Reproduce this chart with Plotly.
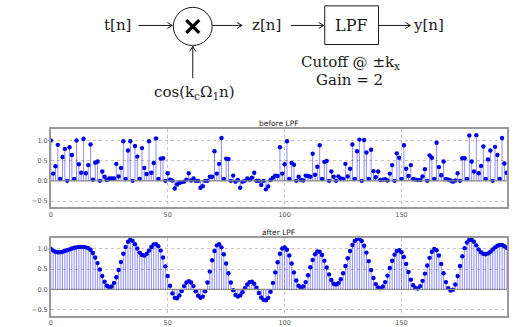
import plotly.graph_objects as go

W, H = 515, 327

n = list(range(196))

before_lpf = [
    1.00, 0.18, 0.36, 0.89, 0.05, 0.59, 0.79, 0.00, 0.83, 0.64,
    0.05, 1.00, 0.41, 0.20, 1.04, 0.19, 0.39, 0.90, 0.03, 0.45,
    0.48, 0.00, 0.23, 0.10, 0.02, 0.06, 0.06, 0.06, 0.42, 0.11,
    0.32, 0.98, 0.05, 0.75, 0.98, 0.00, 0.86, 0.60, 0.05, 0.81,
    0.32, 0.17, 0.98, 0.20, 0.44, 1.05, 0.05, 0.55, 0.56, 0.00,
    0.19, 0.03, 0.01, -0.19, -0.09, -0.05, -0.03, -0.02, 0.03, 0.19,
    0.01, 0.06, 0.00, 0.00, -0.17, -0.13, 0.00, 0.00, 0.10, 0.10,
    0.73, 0.18, 0.42, 1.06, 0.05, 0.55, 0.54, 0.00, 0.13, -0.02,
    0.02, -0.17, -0.02, 0.00, 0.06, 0.03, 0.08, 0.20, 0.00, 0.00,
    -0.10, 0.00, -0.21, -0.14, 0.02, 0.08, 0.13, 0.12, 0.83, 0.18,
    0.41, 0.98, 0.05, 0.44, 0.40, 0.00, 0.10, 0.02, 0.01, 0.13,
    0.12, 0.10, 0.67, 0.15, 0.35, 0.88, 0.05, 0.47, 0.49, 0.00,
    0.23, 0.10, 0.00, 0.11, 0.06, 0.05, 0.42, 0.11, 0.30, 0.90,
    0.05, 0.73, 1.02, 0.00, 1.01, 0.70, 0.05, 0.77, 0.24, 0.09,
    0.23, 0.02, 0.03, 0.04, 0.01, 0.18, 0.39, 0.00, 0.68, 0.57,
    0.05, 0.88, 0.30, 0.12, 0.39, 0.05, 0.03, 0.02, 0.02, 0.11,
    0.29, 0.00, 0.63, 0.57, 0.05, 0.94, 0.34, 0.14, 0.48, 0.05,
    0.03, 0.01, -0.02, 0.01, 0.19, 0.00, 0.56, 0.56, 0.05, 1.12,
    0.48, 0.23, 1.13, 0.19, 0.37, 0.85, 0.05, 0.53, 0.75, 0.00,
    0.84, 0.64, 0.05, 1.06, 0.43, 0.20,
]

after_lpf = [
    1.00, 0.96, 0.93, 0.92, 0.92, 0.93, 0.95, 0.97, 0.99, 1.01,
    1.03, 1.04, 1.05, 1.05, 1.05, 1.04, 1.02, 0.98, 0.90, 0.79,
    0.65, 0.49, 0.33, 0.19, 0.09, 0.05, 0.07, 0.16, 0.30, 0.48,
    0.68, 0.88, 1.05, 1.18, 1.23, 1.20, 1.12, 1.01, 0.91, 0.85,
    0.84, 0.88, 0.96, 1.05, 1.11, 1.12, 1.07, 0.96, 0.79, 0.57,
    0.33, 0.09, -0.10, -0.21, -0.22, -0.15, -0.04, 0.08, 0.17, 0.20,
    0.17, 0.08, -0.05, -0.16, -0.21, -0.18, -0.05, 0.17, 0.44, 0.72,
    0.95, 1.09, 1.12, 1.04, 0.87, 0.64, 0.40, 0.17, -0.02, -0.14,
    -0.18, -0.15, -0.07, 0.03, 0.12, 0.18, 0.19, 0.14, 0.04, -0.09,
    -0.20, -0.26, -0.27, -0.21, -0.06, 0.16, 0.42, 0.67, 0.88, 1.01,
    1.04, 0.98, 0.84, 0.64, 0.42, 0.22, 0.09, 0.04, 0.07, 0.18,
    0.35, 0.55, 0.73, 0.87, 0.94, 0.93, 0.85, 0.71, 0.54, 0.37,
    0.23, 0.14, 0.12, 0.15, 0.25, 0.40, 0.58, 0.77, 0.95, 1.10,
    1.20, 1.25, 1.25, 1.20, 1.08, 0.91, 0.70, 0.48, 0.28, 0.13,
    0.05, 0.03, 0.07, 0.18, 0.34, 0.53, 0.71, 0.86, 0.95, 0.97,
    0.92, 0.80, 0.63, 0.43, 0.24, 0.10, 0.03, 0.02, 0.08, 0.21,
    0.39, 0.59, 0.78, 0.93, 1.00, 0.97, 0.84, 0.63, 0.40, 0.18,
    0.03, -0.03, -0.01, 0.12, 0.33, 0.58, 0.82, 1.02, 1.16, 1.23,
    1.23, 1.18, 1.09, 0.99, 0.92, 0.88, 0.87, 0.89, 0.93, 0.99,
    1.04, 1.08, 1.10, 1.10, 1.07, 1.03,
]

x_ticks = [0, 50, 100, 150]
y_ticks = [-0.5, 0.0, 0.5, 1.0]
y_tick_text = ["\u22120.5", "0.0", "0.5", "1.0"]
titles = ["before LPF", "after LPF"]


def px(x):
    return x / W


def py(y):
    return 1 - y / H


fig = go.Figure()

STEM = "rgba(30,30,255,0.5)"
DOT = "#0000e6"

for vals, xa, ya in [(before_lpf, "x", "y"), (after_lpf, "x2", "y2")]:
    sx, sy = [], []
    for i, v in zip(n, vals):
        sx += [i, i, None]
        sy += [0, v, None]
    fig.add_trace(go.Scatter(x=sx, y=sy, mode="lines", line=dict(color=STEM, width=1),
                             xaxis=xa, yaxis=ya, hoverinfo="skip", showlegend=False))
    fig.add_trace(go.Scatter(x=n, y=vals, mode="markers",
                             marker=dict(color=DOT, size=4.4, line=dict(width=0)),
                             xaxis=xa, yaxis=ya, cliponaxis=False, showlegend=False))

axis_common = dict(
    showline=True, mirror=True, linecolor="#9a9a9a", linewidth=1.5,
    showgrid=True, gridcolor="#c4c4c4", griddash="dot", gridwidth=1,
    ticks="", tickfont=dict(family="DejaVu Sans", size=6.5, color="#555555"),
    zeroline=False,
)

xdom = [px(49), px(506.7)]
fig.update_layout(
    width=W, height=H,
    margin=dict(l=0, r=0, t=0, b=0),
    paper_bgcolor="white", plot_bgcolor="white",
    xaxis=dict(domain=xdom, range=[0, 195], tickvals=x_ticks, anchor="y", **axis_common),
    yaxis=dict(domain=[py(211.7), py(132.3)], range=[-0.65, 1.27], tickvals=y_ticks,
               ticktext=y_tick_text, anchor="x", **axis_common),
    xaxis2=dict(domain=xdom, range=[0, 195], tickvals=x_ticks, anchor="y2", **axis_common),
    yaxis2=dict(domain=[py(322.5), py(243.7)], range=[-0.65, 1.26], tickvals=y_ticks,
                ticktext=y_tick_text, anchor="x2", **axis_common),
)

# zero baselines
for xa, ya in [("x", "y"), ("x2", "y2")]:
    fig.add_shape(type="line", xref=f"{xa} domain", yref=ya, x0=0, x1=1, y0=0, y1=0,
                  line=dict(color="#8a8a8a", width=1.3), layer="above")

# subplot titles
for t, yy in zip(titles, [126, 238]):
    fig.add_annotation(text=t, x=px(277.8), y=py(yy), xref="paper", yref="paper",
                       xanchor="center", yanchor="middle", showarrow=False,
                       font=dict(family="DejaVu Sans", size=7.5, color="#222222"))

# ---- block diagram ----
SERIF = "DejaVu Serif"
LINE = dict(color="#1a1a1a", width=1)


def arrow(x0, y0, x1, y1):
    fig.add_shape(type="line", xref="paper", yref="paper",
                  x0=px(x0), y0=py(y0), x1=px(x1), y1=py(y1), line=LINE)
    if y0 == y1:
        d = 1 if x1 > x0 else -1
        path = (f"M {px(x1 - d*5)},{py(y1 - 3)} L {px(x1)},{py(y1)} "
                f"L {px(x1 - d*5)},{py(y1 + 3)}")
    else:
        d = 1 if y1 > y0 else -1
        path = (f"M {px(x1 - 3)},{py(y1 - d*5)} L {px(x1)},{py(y1)} "
                f"L {px(x1 + 3)},{py(y1 - d*5)}")
    fig.add_shape(type="path", xref="paper", yref="paper", path=path, line=LINE)


def label(text, x, y, size=15):
    fig.add_annotation(text=text, x=px(x), y=py(y), xref="paper", yref="paper",
                       xanchor="center", yanchor="middle", showarrow=False,
                       font=dict(family=SERIF, size=size, color="#1a1a1a"))


label("t[n]", 116, 26)
arrow(137, 26, 171, 26)
# multiplier circle
fig.add_shape(type="circle", xref="paper", yref="paper",
              x0=px(172), x1=px(211), y0=py(46.5), y1=py(7.5), line=LINE)
fig.add_shape(type="line", xref="paper", yref="paper", x0=px(185), y0=py(20.5),
              x1=px(198), y1=py(33.5), line=dict(color="black", width=3.2))
fig.add_shape(type="line", xref="paper", yref="paper", x0=px(185), y0=py(33.5),
              x1=px(198), y1=py(20.5), line=dict(color="black", width=3.2))
arrow(211, 26, 241, 26)
label("z[n]", 266, 26)
arrow(290, 26, 323, 26)
fig.add_shape(type="rect", xref="paper", yref="paper",
              x0=px(324), x1=px(378), y0=py(45.5), y1=py(6), line=LINE)
label("LPF", 351, 26.5, 16)
arrow(378, 26, 410, 26)
label("y[n]", 428, 26)
arrow(191.5, 80, 191.5, 47.5)
label("cos(k<sub>c</sub>\u03a9<sub>1</sub>n)", 193, 95)
label("Cutoff @ \u00b1k<sub>x</sub>", 350, 64)
label("Gain = 2", 349, 82)

fig.write_html("out.html")
